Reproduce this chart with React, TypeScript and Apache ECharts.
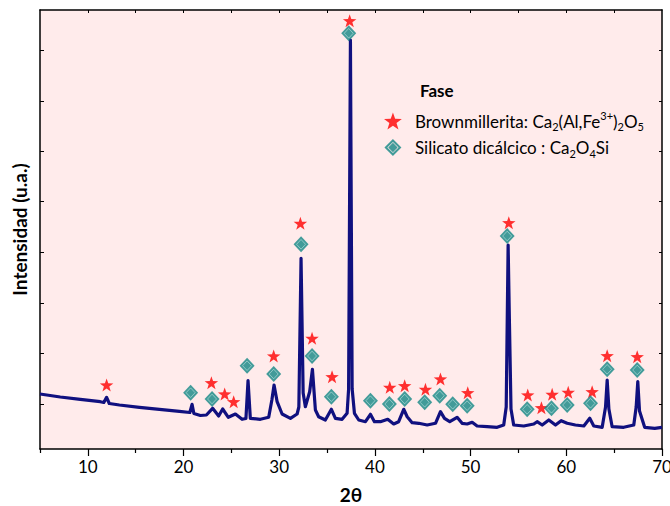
import { useEffect, useRef } from "react";
import * as echarts from "echarts";

// Diffractogram trace: 2θ (degrees) and intensity (counts, arbitrary units)
const twoTheta = [
  5.0, 7.12, 9.21, 11.3, 11.67, 11.96, 12.24, 13.3, 15.39, 17.48, 19.57, 20.66, 20.89, 21.08,
  21.76, 22.39, 23.04, 23.67, 24.09, 24.68, 25.42, 26.12, 26.52, 26.74, 26.98, 28.03, 28.9,
  29.23, 29.46, 29.78, 30.3, 31.17, 31.87, 32.05, 32.28, 32.5, 32.73, 33.18, 33.47, 33.78,
  34.12, 34.82, 35.45, 35.87, 36.57, 37.09, 37.25, 37.44, 37.62, 37.86, 38.31, 39.01, 39.53,
  39.95, 40.57, 41.34, 41.96, 42.48, 43.01, 43.37, 43.89, 44.58, 45.46, 46.33, 46.85, 47.27,
  47.82, 48.59, 49.11, 49.64, 50.16, 50.68, 51.73, 52.77, 53.46, 53.72, 53.92, 54.06, 54.22,
  54.5, 55.55, 56.6, 56.95, 57.48, 58.17, 58.87, 59.46, 60.09, 60.95, 61.83, 62.45, 62.87,
  63.75, 64.1, 64.27, 64.45, 64.79, 66.0, 67.05, 67.3, 67.47, 67.65, 68.19, 69.24, 70.0,
];
const intensity = [
  550, 520, 497, 473, 465, 517, 455, 440, 417, 397, 377, 365, 447, 355,
  335, 340, 407, 330, 400, 317, 350, 297, 305, 683, 307, 297, 317,
  490, 640, 473, 350, 307, 350, 420, 1907, 560, 423, 573, 797, 390,
  323, 290, 397, 307, 297, 357, 600, 4090, 600, 357, 290, 273, 347,
  273, 273, 297, 250, 273, 397, 323, 263, 257, 240, 257, 373, 307,
  273, 317, 257, 250, 267, 230, 223, 217, 240, 420, 2040, 1250, 400,
  240, 230, 250, 273, 240, 290, 240, 283, 257, 240, 230, 307, 230,
  217, 420, 690, 400, 223, 217, 240, 420, 673, 380, 217, 207, 217,
];

// Phase markers (2θ, marker height)
const brownTheta = [
  11.96, 22.91, 24.3, 25.24, 29.42, 32.21, 33.43, 35.52, 37.36, 41.55, 43.11,
  45.28, 46.85, 49.7, 53.99, 55.97, 57.4, 58.52, 60.2, 62.7, 64.27, 67.41,
];
const brownMarkY = [
  640, 663, 550, 473, 930, 2257, 1107, 723, 4283, 617, 633,
  597, 700, 563, 2263, 540, 413, 547, 567, 573, 933, 923,
];
const silTheta = [
  20.74, 22.98, 26.64, 29.42, 32.28, 33.43, 35.45, 37.26, 39.53, 41.51, 43.11,
  45.2, 46.77, 48.13, 49.64, 53.82, 55.91, 58.45, 60.09, 62.53, 64.27, 67.41,
];
const silMarkY = [
  563, 500, 833, 750, 2047, 930, 523, 4157, 483, 450, 500,
  467, 533, 447, 433, 2130, 397, 407, 440, 457, 797, 790,
];

const xMajorTicks = [10, 20, 30, 40, 50, 60, 70];
const xMinorTicks = [5, 15, 25, 35, 45, 55, 65];
const xTopTicks = [10, 15, 20, 25, 30, 35, 40, 45, 50, 55, 60, 65];
const yTicks = [450, 960, 1460, 1970, 2473, 2973, 3473, 3990];

const BROWN = "Brownmillerita";
const SIL = "Silicato dicálcico";

const FONT = "Lato, 'Liberation Sans', sans-serif";
const STAR =
  "path://M10,0L12.35,6.76L19.51,6.91L13.8,11.24L15.88,18.09L10,14L4.12,18.09L6.2,11.24L0.49,6.91L7.65,6.76Z";
const DIAMOND_ICON =
  "path://M10,0L20,10L10,20L0,10Z M10,3.4L3.4,10L10,16.6L16.6,10Z M10,4.5L15.5,10L10,15.5L4.5,10Z";

const TEAL = "#138784";

export default function App() {
  const ref = useRef<HTMLDivElement>(null);

  useEffect(() => {
    if (!ref.current) return;
    const chart = echarts.init(ref.current, undefined, { renderer: "svg" });

    const trace = twoTheta.map((t, i) => [t, intensity[i]]);
    const brown = brownTheta.map((t, i) => [t, brownMarkY[i]]);
    const sil = silTheta.map((t, i) => [t, silMarkY[i]]);

    const labels: Record<string, string> = {
      [BROWN]: "{t|Brownmillerita: Ca}{sub|2}{t|(Al,Fe}{sup|3+}{t|)}{sub|2}{t|O}{sub|5}",
      [SIL]: "{t|Silicato dicálcico : Ca}{sub|2}{t|O}{sub|4}{t|Si}",
    };

    chart.setOption({
      animation: false,
      backgroundColor: "#ffffff",
      title: {
        text: "Fase",
        left: 415,
        top: 77,
        textStyle: { fontFamily: FONT, fontSize: 17, fontWeight: "bold", color: "#000" },
      },
      legend: {
        orient: "vertical",
        left: 379,
        top: 105,
        itemWidth: 34,
        itemHeight: 17,
        itemGap: 7,
        selectedMode: false,
        symbolKeepAspect: true,
        data: [
          { name: BROWN, icon: STAR },
          { name: SIL, icon: DIAMOND_ICON },
        ],
        formatter: (name: string) => labels[name] ?? name,
        textStyle: {
          fontFamily: FONT,
          fontSize: 17,
          color: "#000",
          rich: {
            t: { fontFamily: FONT, fontSize: 17, color: "#000", lineHeight: 22 },
            sub: { fontFamily: FONT, fontSize: 11, color: "#000", lineHeight: 10, verticalAlign: "bottom" },
            sup: { fontFamily: FONT, fontSize: 11, color: "#000", lineHeight: 10, verticalAlign: "top" },
          },
        },
      },
      grid: {
        left: 40,
        right: 8,
        top: 10,
        bottom: 57,
        outerBoundsMode: "none",
        show: true,
        backgroundColor: "#FFEBEB",
        borderWidth: 0,
      },
      xAxis: [
        {
          type: "value",
          min: 5,
          max: 70,
          position: "bottom",
          axisLine: { show: true, onZero: false, lineStyle: { color: "#000", width: 1.5 } },
          axisTick: { show: true, customValues: xMajorTicks, length: 7, lineStyle: { color: "#000", width: 1.2 } },
          axisLabel: { customValues: xMajorTicks, fontFamily: FONT, fontSize: 17, color: "#000", margin: 9 },
          splitLine: { show: false },
          name: "2θ",
          nameLocation: "middle",
          nameGap: 36,
          nameTextStyle: { fontFamily: FONT, fontSize: 19, fontWeight: "bold", color: "#000" },
        },
        {
          type: "value",
          min: 5,
          max: 70,
          position: "bottom",
          axisLine: { show: false, onZero: false },
          axisTick: { show: true, customValues: xMinorTicks, length: 4, lineStyle: { color: "#000", width: 1.2 } },
          axisLabel: { show: false },
          splitLine: { show: false },
        },
        {
          type: "value",
          min: 5,
          max: 70,
          position: "top",
          axisLine: { show: true, onZero: false, lineStyle: { color: "#000", width: 1.5 } },
          axisTick: { show: true, inside: true, customValues: xTopTicks, length: 3, lineStyle: { color: "#000" } },
          axisLabel: { show: false },
          splitLine: { show: false },
        },
      ],
      yAxis: [
        {
          type: "value",
          min: 0,
          max: 4390,
          position: "left",
          axisLine: { show: true, onZero: false, lineStyle: { color: "#000", width: 1.5 } },
          axisTick: { show: true, inside: true, customValues: yTicks, length: 4, lineStyle: { color: "#000" } },
          axisLabel: { show: false },
          splitLine: { show: false },
          name: "Intensidad (u.a.)",
          nameLocation: "middle",
          nameGap: 11,
          nameTextStyle: { fontFamily: FONT, fontSize: 19, fontWeight: "bold", color: "#000" },
        },
        {
          type: "value",
          min: 0,
          max: 4390,
          position: "right",
          axisLine: { show: true, onZero: false, lineStyle: { color: "#000", width: 1.5 } },
          axisTick: { show: true, inside: true, customValues: yTicks, length: 3, lineStyle: { color: "#000" } },
          axisLabel: { show: false },
          splitLine: { show: false },
        },
      ],
      series: [
        {
          type: "line",
          name: "DRX",
          xAxisIndex: 0,
          yAxisIndex: 0,
          data: trace,
          showSymbol: false,
          lineStyle: { color: "#10107f", width: 3.2, join: "round" },
          z: 2,
        },
        {
          type: "scatter",
          name: BROWN,
          xAxisIndex: 0,
          yAxisIndex: 0,
          data: brown,
          symbol: STAR,
          symbolSize: [13.5, 13],
          itemStyle: { color: "#ff0000" },
          z: 3,
        },
        {
          type: "scatter",
          name: SIL,
          xAxisIndex: 0,
          yAxisIndex: 0,
          data: sil,
          symbol: "diamond",
          symbolSize: [15, 16],
          itemStyle: { color: TEAL },
          z: 3,
        },
        {
          type: "scatter",
          name: "silicato-contorno",
          xAxisIndex: 0,
          yAxisIndex: 0,
          data: sil,
          symbol: "diamond",
          symbolSize: [9, 9.6],
          silent: true,
          itemStyle: { color: "transparent", borderColor: "rgba(205,236,234,0.85)", borderWidth: 0.8 },
          z: 4,
        },
      ],
    });

    return () => chart.dispose();
  }, []);

  return (
    <div
      ref={ref}
      style={{ position: "fixed", left: 0, top: 0, width: 670, height: 506, background: "#fff" }}
    />
  );
}
